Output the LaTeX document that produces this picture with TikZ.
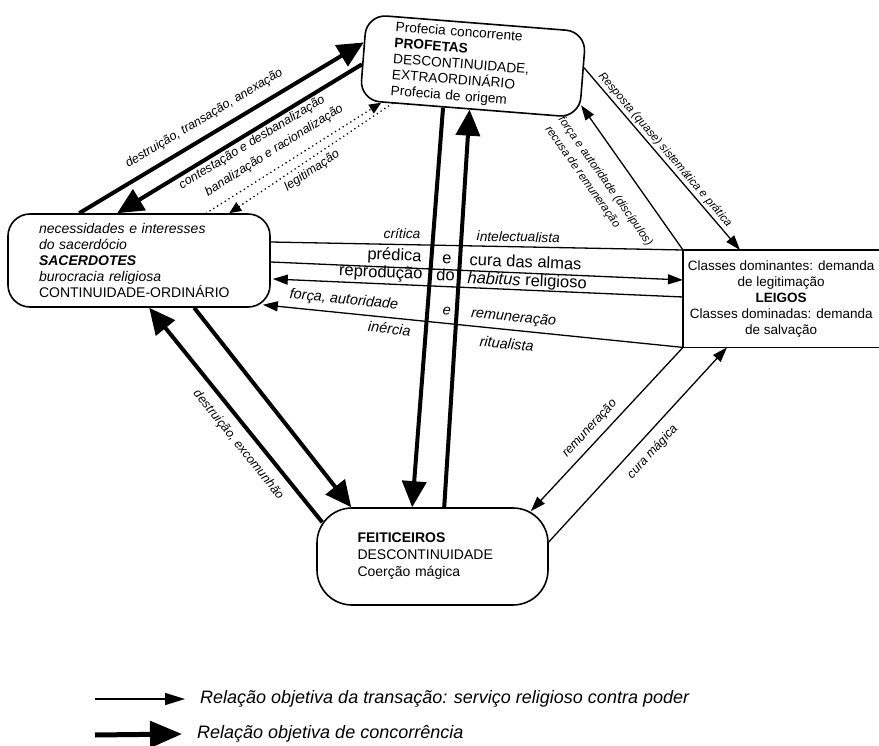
\documentclass[tikz,border=0pt]{standalone}
\usepackage{fontspec}
\setmainfont{Liberation Sans}
\usetikzlibrary{arrows.meta,calc}
\begin{document}
\begin{tikzpicture}[x=1pt,y=-1pt,
  every node/.style={inner sep=0pt},
  bx/.style={draw, line width=1.6pt, align=left},
  lnplain/.style={line width=1.3pt},
  lnthin/.style={line width=1.3pt, -{Triangle[length=15pt,width=10pt]}},
  lnthick/.style={line width=4pt, -{Triangle[length=26pt,width=24pt]}},
  lndot/.style={line width=1.8pt, line cap=round, dash pattern=on 0pt off 4.5pt, -{Triangle[length=12pt,width=10pt]}},
  legthin/.style={line width=1.5pt, -{Triangle[length=20pt,width=12pt]}},
  legthick/.style={line width=5pt, -{Triangle[length=32pt,width=26pt]}},
  lab/.style={sloped, font=\fontsize{12.5}{14}\selectfont\itshape, text height=9pt, text depth=2.6pt},
  labs/.style={sloped, font=\fontsize{11.5}{13.5}\selectfont\itshape, text height=8.3pt, text depth=2.4pt},
  alab/.style={sloped, font=\fontsize{13.7}{16}\selectfont\itshape, text height=9.9pt, text depth=2.9pt},
  hlab/.style={sloped, font=\fontsize{16.5}{18}\selectfont, text height=12pt, text depth=3.5pt},
  hilab/.style={sloped, font=\fontsize{14.5}{16}\selectfont\itshape, text height=10.5pt, text depth=3pt}
]
\useasboundingbox (0,0) rectangle (879,746);

% boxes
\node[bx, rounded corners=20pt, rotate=-4.5, minimum width=220pt, minimum height=86pt,
      text width=160pt, font=\fontsize{13.7}{16}\selectfont] (prof) at (473,66)
  {Profecia concorrente\\\textbf{PROFETAS}\\DESCONTINUIDADE,\\EXTRAORDINÁRIO\\Profecia de origem};
\node[bx, rounded corners=22pt, minimum width=262pt, minimum height=93pt,
      text width=200pt, font=\fontsize{14}{16}\selectfont\itshape] (sac) at (139,260.5)
  {necessidades e interesses\\do sacerdócio\\\textbf{SACERDOTES}\\burocracia religiosa\\{\upshape CONTINUIDADE-ORDINÁRIO}};
\node[bx, rounded corners=35pt, minimum width=231pt, minimum height=97pt,
      text width=150pt, font=\fontsize{14}{17}\selectfont] (feit) at (432.5,556.5)
  {\textbf{FEITICEIROS}\\DESCONTINUIDADE\\Coerção mágica};
\node[minimum width=196pt, minimum height=97pt, anchor=north west, align=center,
      font=\fontsize{13.5}{16}\selectfont] (lg) at (683,250)
  {Classes dominantes: demanda\\de legitimação\\\textbf{LEIGOS}\\Classes dominadas: demanda\\de salvação};
\draw[line width=1.6pt] (lg.north east) -- (lg.north west) -- (lg.south west) -- (lg.south east);

% sacerdotes <-> profetas
\draw[lnthick] ($(sac.north west)+(72,0)$) -- ($(prof.north west)!0.33!(prof.south west)$)
  node[lab, pos=0.47, above=9pt] (lt1) {destruição, transação, anexação};
\draw[lnthick] ($(prof.north west)!0.58!(prof.south west)$) -- ($(sac.north west)+(110,0)$)
  node[lab, pos=0.47, below=2pt] (lt2) {contestação e desbanalização};
\draw[lndot] ($(sac.north west)+(199,0)$) -- ($(prof.south west)!0.1!(prof.south east)$)
  node[lab, pos=0.44, above=10pt] (ld1) {banalização e racionalização};
\draw[lndot] ($(prof.south west)!0.15!(prof.south east)$) -- ($(sac.north west)+(222,0)$)
  node[lab, pos=0.53, below=4.5pt] (ld2) {legitimação};

% profetas <-> feiticeiros
\draw[lnthick] ($(prof.south west)!0.38!(prof.south east)$) -- ($(feit.north west)+(96,0)$);
\draw[lnthick] ($(feit.north west)+(128,0)$) -- ($(prof.south west)!0.5!(prof.south east)$);

% sacerdotes <-> feiticeiros
\draw[lnthick] ($(sac.south west)+(187,0)$) -- ($(feit.north west)+(35,0)$);
\draw[lnthick] ($(feit.north west)+(6,15)$) -- ($(sac.south west)+(142,0)$)
  node[lab, pos=0.41, below=9pt] (ls2) {destruição, excomunhão};

% profetas <-> leigos
\draw[lnthin] ($(prof.north east)!0.42!(prof.south east)$) -- ($(lg.north west)+(57,0)$)
  node[labs, pos=0.48, above=2pt] (lpl) {Resposta (quase) sistemática e prática};
\draw[lnthin] (lg.north west) -- ($(prof.north east)!0.85!(prof.south east)$)
  node[sloped, pos=0.57, below=18pt, align=left, font=\fontsize{11.5}{16}\selectfont\itshape] (llp)
  {força e autoridade (discípulos)\\recusa de remuneração};

% sacerdotes <-> leigos
\draw[lnplain] ($(sac.east)+(0,-18.5)$) -- (lg.north west)
  node[alab, pos=0.318, above=2.5pt] (la1) {crítica}
  node[alab, pos=0.6, above=1.5pt] (la2) {intelectualista};
\draw[lnthin] ($(sac.east)+(0,1.5)$) -- ($(lg.north west)+(0,30)$)
  node[hlab, pos=0.299, above=3pt] (lb1) {prédica}
  node[hlab, pos=0.426, above=2pt] (lb2) {e}
  node[hlab, pos=0.617, above=1.5pt] (lb3) {cura das almas};
\draw[lnthin] ($(lg.north west)+(0,47)$) -- ($(sac.east)+(2,18.5)$)
  node[hlab, pos=0.738, above=2pt] (lc1) {reprodução}
  node[hlab, pos=0.58, above=2pt] (lc2) {do}
  node[hlab, pos=0.381, above=0pt] (lc3) {\textit{habitus} religioso};
\draw[lnthin] (lg.south west) -- ($(sac.south east)+(-8,-3)$)
  node[hilab, pos=0.81, above=5.5pt] (le1) {força, autoridade}
  node[hilab, pos=0.565, above=5pt] (le2) {e}
  node[hilab, pos=0.406, above=5pt] (le3) {remuneração}
  node[hilab, pos=0.696, below=5pt] (le4) {inércia}
  node[hilab, pos=0.416, below=8pt] (le5) {ritualista};

% leigos <-> feiticeiros
\draw[lnthin] (lg.south west) -- ($(feit.north east)+(-18,4)$)
  node[lab, pos=0.55, above=6.5pt] (llf) {remuneração};
\draw[lnthin] ($(feit.east)+(-1,-13.5)$) -- ($(lg.south west)+(44,0)$)
  node[lab, pos=0.52, below=9.5pt] (lfl) {cura mágica};

% legend
\node[anchor=west, font=\fontsize{18}{20}\selectfont\itshape] (leg1) at (200,699)
  {Relação objetiva da transação: serviço religioso contra poder};
\node[anchor=west, font=\fontsize{18}{20}\selectfont\itshape] (leg2) at (197,734)
  {Relação objetiva de concorrência};
\coordinate (lg1s) at (95,699);
\coordinate (lg2s) at (95,735);
\draw[legthin] (lg1s) -- ([xshift=-15pt]leg1.west);
\draw[legthick] (lg2s) -- ([xshift=-15pt]leg2.west);
\end{tikzpicture}
\end{document}
